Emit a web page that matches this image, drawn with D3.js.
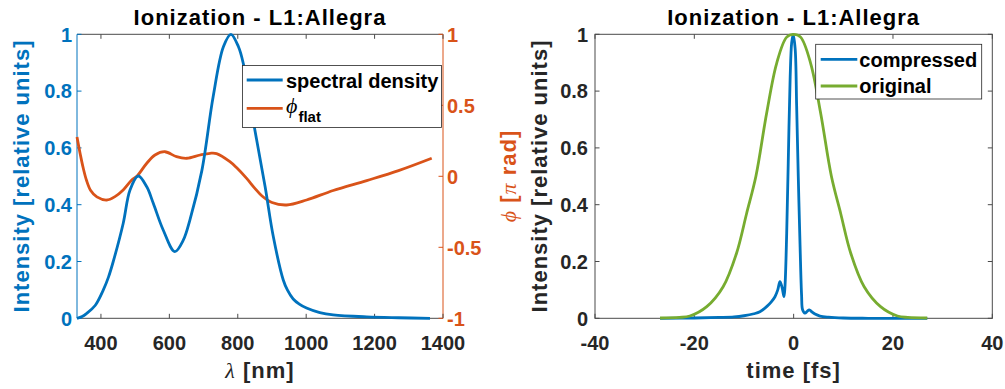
<!DOCTYPE html>
<html>
<head>
<meta charset="utf-8">
<script src="https://cdn.jsdelivr.net/npm/d3@7"></script>
<style>
html,body{margin:0;padding:0;background:#fff;}
svg{display:block;}
text{font-family:"Liberation Sans",Arial,Helvetica,sans-serif;font-weight:bold;}
</style>
</head>
<body>
<svg id="chart" width="1005" height="389"></svg>
<script>
// ---------- data ----------
const chartTitle = "Ionization - L1:Allegra";

const lambdaNm = [330,345,358,383,407,422,436,465,485,509,534,553,582,616,641,660,695,728,758,780,802,816,850,880,904,933,945,962,980,1001,1040,1079,1177,1270,1362];
const spectralDensity = [0,0.006,0.017,0.045,0.1,0.145,0.2,0.334,0.452,0.501,0.463,0.405,0.311,0.235,0.276,0.346,0.52,0.78,0.956,1.0,0.956,0.898,0.663,0.463,0.287,0.135,0.1,0.068,0.05,0.036,0.02,0.012,0.005,0.002,0.0];

const phaseLambda = [330,340,348,358,370,388,417,441,465,490,505,534,558,587,621,651,690,719,738,777,797,826,850,871,900,943,1001,1079,1177,1270,1367];
const phaseFlat = [0.277,0.15,0.06,-0.03,-0.1,-0.145,-0.167,-0.143,-0.096,-0.026,0,0.092,0.15,0.173,0.138,0.127,0.15,0.162,0.16,0.103,0.06,-0.015,-0.085,-0.139,-0.185,-0.202,-0.167,-0.1,-0.03,0.04,0.127];

const timeCompressed = [-26.9,-20,-15,-12,-10,-8,-6.8,-5.44,-4.5,-3.76,-3.2,-2.76,-2.35,-1.95,-1.75,-1.4,-1.09,-0.7,-0.4,-0.1,0.3,0.6,0.93,1.3,1.6,1.8,2.28,2.7,3.15,3.7,4.3,5.3,7,10,15,26.9];
const compressed = [0,0.001,0.003,0.005,0.009,0.016,0.023,0.041,0.058,0.076,0.1,0.129,0.11,0.076,0.111,0.3,0.546,0.85,0.97,1.0,0.95,0.75,0.5,0.25,0.08,0.03,0.018,0.024,0.03,0.022,0.015,0.008,0.004,0.001,0,0];

const timeOriginal = [-26.9,-23,-20.9,-17.5,-14.2,-11.5,-9.46,-7.6,-5.44,-3.42,-1.4,0,1.4,3.42,5.44,7.6,9.46,11.5,14.2,17.5,20.9,23,26.9];
const original = [0.001,0.003,0.008,0.041,0.111,0.229,0.37,0.5,0.722,0.898,0.99,1,0.99,0.898,0.722,0.5,0.37,0.229,0.111,0.041,0.008,0.003,0.001];

const lambdaTicks = [400,600,800,1000,1200,1400];
const intensityTicks = [0,0.2,0.4,0.6,0.8,1];
const phaseTicks = [-1,-0.5,0,0.5,1];
const timeTicks = [-40,-20,0,20,40];

// ---------- style ----------
const BLUE = "#0072BD", ORANGE = "#D95319", GREEN = "#77AC30", DARK = "#262626", AX = "#4a4a4a";
const svg = d3.select("#chart");
svg.append("rect").attr("width",1005).attr("height",389).attr("fill","#fff");

const fmt = d => (d === 0 ? "0" : String(d));
const TICK = 4.5;
const TFS = 20;
const smooth = d3.curveCatmullRom.alpha(0.5);

// ---------- left panel ----------
const L = {x0:77, x1:443, y0:34.3, y1:318.3};
const xL = d3.scaleLinear().domain([330,1400]).range([L.x0,L.x1]);
const yL = d3.scaleLinear().domain([0,1]).range([L.y1,L.y0]);
const yR = d3.scaleLinear().domain([-1,1]).range([L.y1,L.y0]);

const gL = svg.append("g");
gL.append("line").attr("x1",L.x0).attr("x2",L.x1).attr("y1",L.y1).attr("y2",L.y1).attr("stroke",AX).attr("stroke-width",1);
gL.append("line").attr("x1",L.x0).attr("x2",L.x1).attr("y1",L.y0).attr("y2",L.y0).attr("stroke",AX).attr("stroke-width",1);
gL.append("line").attr("x1",L.x0).attr("x2",L.x0).attr("y1",L.y0).attr("y2",L.y1).attr("stroke",BLUE).attr("stroke-width",1);
gL.append("line").attr("x1",L.x1).attr("x2",L.x1).attr("y1",L.y0).attr("y2",L.y1).attr("stroke",ORANGE).attr("stroke-width",1);

lambdaTicks.forEach(t => {
  const x = xL(t);
  gL.append("line").attr("x1",x).attr("x2",x).attr("y1",L.y1).attr("y2",L.y1-TICK).attr("stroke",AX);
  gL.append("line").attr("x1",x).attr("x2",x).attr("y1",L.y0).attr("y2",L.y0+TICK).attr("stroke",AX);
  gL.append("text").attr("x",x).attr("y",349.5).attr("text-anchor","middle").attr("font-size",TFS).attr("fill",DARK).text(fmt(t));
});
intensityTicks.forEach(t => {
  const y = yL(t);
  gL.append("line").attr("x1",L.x0).attr("x2",L.x0+TICK).attr("y1",y).attr("y2",y).attr("stroke",BLUE);
  gL.append("text").attr("x",72).attr("y",y).attr("dy","0.36em").attr("text-anchor","end").attr("font-size",TFS).attr("fill",BLUE).text(fmt(t));
});
phaseTicks.forEach(t => {
  const y = yR(t);
  gL.append("line").attr("x1",L.x1).attr("x2",L.x1-TICK).attr("y1",y).attr("y2",y).attr("stroke",ORANGE);
  gL.append("text").attr("x",447).attr("y",y).attr("dy","0.36em").attr("text-anchor","start").attr("font-size",TFS).attr("fill",ORANGE).text(fmt(t));
});

const lineL = d3.line().x(d=>xL(d[0])).y(d=>yL(d[1])).curve(smooth);
const lineR = d3.line().x(d=>xL(d[0])).y(d=>yR(d[1])).curve(smooth);
gL.append("path").datum(d3.zip(phaseLambda,phaseFlat)).attr("d",lineR).attr("fill","none").attr("stroke",ORANGE).attr("stroke-width",2.8).attr("stroke-linejoin","round");
gL.append("path").datum(d3.zip(lambdaNm,spectralDensity)).attr("d",lineL).attr("fill","none").attr("stroke",BLUE).attr("stroke-width",2.8).attr("stroke-linejoin","round");

gL.append("text").attr("x",(L.x0+L.x1)/2).attr("y",25).attr("text-anchor","middle").attr("font-size",22).attr("letter-spacing","1px").attr("fill","#000").text(chartTitle);
const xlab = gL.append("text").attr("x",(L.x0+L.x1)/2).attr("y",378).attr("text-anchor","middle").attr("font-size",22).attr("letter-spacing","1px").attr("fill",DARK);
xlab.append("tspan").attr("font-family","'Liberation Serif','DejaVu Serif',serif").attr("font-style","italic").attr("font-weight","normal").text("λ");
xlab.append("tspan").text(" [nm]");
gL.append("text").attr("transform","translate(29,176) rotate(-90)").attr("text-anchor","middle").attr("font-size",22).attr("letter-spacing","1px").attr("fill",BLUE).text("Intensity [relative units]");
const ry = gL.append("text").attr("transform","translate(516,176) rotate(-90)").attr("text-anchor","middle").attr("font-size",22).attr("letter-spacing","1px").attr("fill",ORANGE);
ry.append("tspan").attr("font-family","'Liberation Serif','DejaVu Serif',serif").attr("font-style","italic").attr("font-weight","normal").text("ϕ");
ry.append("tspan").text(" [");
ry.append("tspan").attr("font-family","'Liberation Serif','DejaVu Serif',serif").attr("font-style","italic").attr("font-weight","normal").text("π");
ry.append("tspan").text(" rad]");

const lgL = gL.append("g");
lgL.append("rect").attr("x",242.5).attr("y",65.5).attr("width",199).attr("height",62).attr("fill","#fff").attr("stroke",DARK).attr("stroke-width",0.8);
lgL.append("line").attr("x1",246.7).attr("x2",282.7).attr("y1",80).attr("y2",80).attr("stroke",BLUE).attr("stroke-width",2.8);
lgL.append("text").attr("x",286).attr("y",87.5).attr("font-size",20).attr("fill","#000").text("spectral density");
lgL.append("line").attr("x1",246.7).attr("x2",282.7).attr("y1",108.3).attr("y2",108.3).attr("stroke",ORANGE).attr("stroke-width",2.8);
const phiT = lgL.append("text").attr("x",286).attr("y",113).attr("font-size",22).attr("fill","#000");
phiT.append("tspan").attr("font-family","'Liberation Serif','DejaVu Serif',serif").attr("font-style","italic").attr("font-weight","normal").text("ϕ");
phiT.append("tspan").attr("dy",9).attr("dx",1).attr("font-size",15).text("flat");

// ---------- right panel ----------
const R = {x0:595, x1:992.3, y0:34.3, y1:318.3};
const xT = d3.scaleLinear().domain([-40,40]).range([R.x0,R.x1]);
const yT = d3.scaleLinear().domain([0,1]).range([R.y1,R.y0]);
const gR = svg.append("g");
gR.append("rect").attr("x",R.x0).attr("y",R.y0).attr("width",R.x1-R.x0).attr("height",R.y1-R.y0).attr("fill","none").attr("stroke",AX).attr("stroke-width",1);
timeTicks.forEach(t => {
  const x = xT(t);
  gR.append("line").attr("x1",x).attr("x2",x).attr("y1",R.y1).attr("y2",R.y1-TICK).attr("stroke",AX);
  gR.append("line").attr("x1",x).attr("x2",x).attr("y1",R.y0).attr("y2",R.y0+TICK).attr("stroke",AX);
  gR.append("text").attr("x",x).attr("y",349.5).attr("text-anchor","middle").attr("font-size",TFS).attr("fill",DARK).text(fmt(t));
});
intensityTicks.forEach(t => {
  const y = yT(t);
  gR.append("line").attr("x1",R.x0).attr("x2",R.x0+TICK).attr("y1",y).attr("y2",y).attr("stroke",AX);
  gR.append("line").attr("x1",R.x1).attr("x2",R.x1-TICK).attr("y1",y).attr("y2",y).attr("stroke",AX);
  gR.append("text").attr("x",588).attr("y",y).attr("dy","0.36em").attr("text-anchor","end").attr("font-size",TFS).attr("fill",DARK).text(fmt(t));
});
const lineT = d3.line().x(d=>xT(d[0])).y(d=>yT(d[1])).curve(smooth);
gR.append("path").datum(d3.zip(timeCompressed,compressed)).attr("d",lineT).attr("fill","none").attr("stroke",BLUE).attr("stroke-width",2.8).attr("stroke-linejoin","round");
gR.append("path").datum(d3.zip(timeOriginal,original)).attr("d",lineT).attr("fill","none").attr("stroke",GREEN).attr("stroke-width",2.8).attr("stroke-linejoin","round");

gR.append("text").attr("x",(R.x0+R.x1)/2).attr("y",25).attr("text-anchor","middle").attr("font-size",22).attr("letter-spacing","1px").attr("fill","#000").text(chartTitle);
gR.append("text").attr("x",(R.x0+R.x1)/2).attr("y",378).attr("text-anchor","middle").attr("font-size",22).attr("letter-spacing","1px").attr("fill",DARK).text("time [fs]");
gR.append("text").attr("transform","translate(547,176) rotate(-90)").attr("text-anchor","middle").attr("font-size",22).attr("letter-spacing","1px").attr("fill",DARK).text("Intensity [relative units]");

const lgR = gR.append("g");
lgR.append("rect").attr("x",815.7).attr("y",44.3).attr("width",166).attr("height",54.7).attr("fill","#fff").attr("stroke",DARK).attr("stroke-width",0.8);
lgR.append("line").attr("x1",820.7).attr("x2",857.3).attr("y1",59.3).attr("y2",59.3).attr("stroke",BLUE).attr("stroke-width",2.8);
lgR.append("text").attr("x",859.3).attr("y",66.5).attr("font-size",20).attr("fill","#000").text("compressed");
lgR.append("line").attr("x1",820.7).attr("x2",857.3).attr("y1",86).attr("y2",86).attr("stroke",GREEN).attr("stroke-width",2.8);
lgR.append("text").attr("x",859.3).attr("y",92.5).attr("font-size",20).attr("fill","#000").text("original");
</script>
</body>
</html>
